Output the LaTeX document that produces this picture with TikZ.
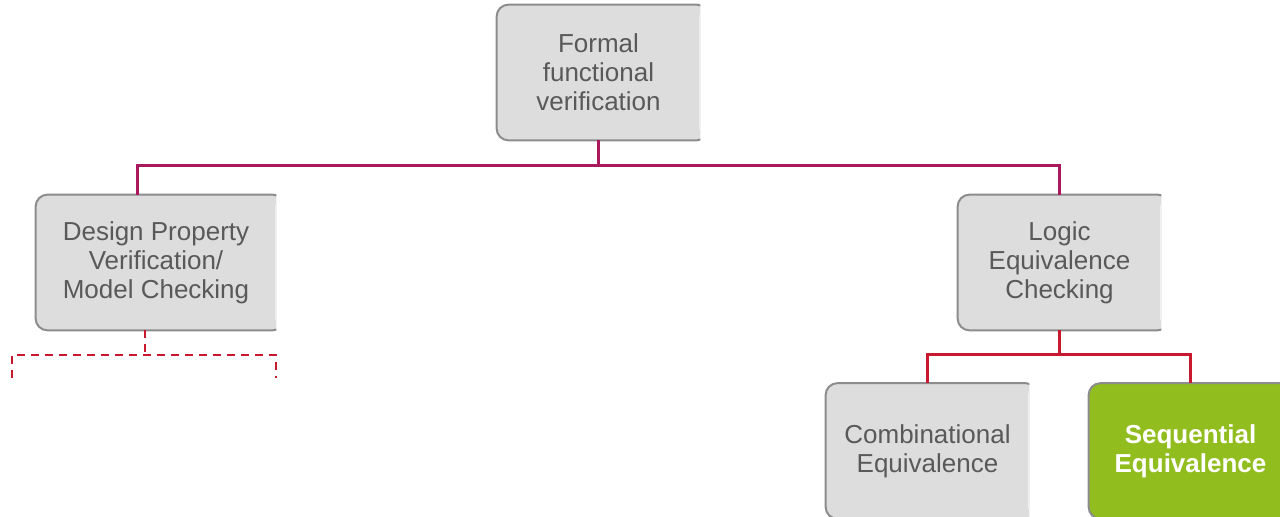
\documentclass[tikz,border=0pt]{standalone}
\usepackage{fontspec}
\setmainfont{Liberation Sans}
\usetikzlibrary{backgrounds}
\definecolor{boxfill}{HTML}{DDDDDD}
\definecolor{boxline}{HTML}{8C8C8C}
\definecolor{boxedge}{HTML}{EFEFEF}
\definecolor{boxtext}{HTML}{595959}
\definecolor{seqgreen}{HTML}{92BD1F}
\definecolor{busupper}{HTML}{A8195E}
\definecolor{buslower}{HTML}{C8192E}

% A rounded box whose right side is cut straight, as if clipped
\newcommand{\cutbox}[2]{%
  \begin{scope}[on background layer]
    \begin{scope}
      \clip ([xshift=-2pt,yshift=-2pt]#1.south west) rectangle ([yshift=2pt]#1.north east);
      \draw[fill=#2, draw=boxline, line width=1pt, rounded corners=6pt]
        (#1.south west) rectangle ([xshift=4pt]#1.north east);
    \end{scope}
    \draw[boxedge, line width=1pt] ([yshift=-5pt]#1.north east) -- ([yshift=5pt]#1.south east);
  \end{scope}}

\begin{document}
\begin{tikzpicture}[x=0.5pt, y=-0.5pt,
  box/.style={inner sep=0pt, align=center, text=boxtext,
    minimum width=101.5pt, minimum height=67.5pt,
    font=\fontsize{13}{14.5}\selectfont},
  upper/.style={draw=busupper, line width=1.5pt},
  lower/.style={draw=buslower, line width=1.5pt},
  dashbus/.style={draw=buslower, line width=1.1pt, dash pattern=on 4pt off 3pt}]

\useasboundingbox (0,0) rectangle (1280,517);

% boxes
\node[box] (top) at (598.5,72.5) {Formal\\functional\\verification};
\node[box, minimum width=120pt] (dpv) at (156,262.5) {Design Property\\Verification/\\Model Checking};
\node[box] (lec) at (1059.5,262.5) {Logic\\Equivalence\\Checking};
\node[box] (comb) at (927.5,451) {Combinational\\Equivalence};
\node[box, text=white, font=\fontsize{13}{14.5}\selectfont\bfseries] (seq) at (1190.5,451) {Sequential\\Equivalence};

\cutbox{top}{boxfill}
\cutbox{dpv}{boxfill}
\cutbox{lec}{boxfill}
\cutbox{comb}{boxfill}
\cutbox{seq}{seqgreen}

% upper bus
\coordinate (busA) at (598.5,166);
\coordinate (dpvin) at (137,195);
\draw[upper] (top.south) -- (busA);
\draw[upper] (dpvin) |- (busA) -| (lec.north);

% lower bus
\coordinate (busB) at (1059.5,355);
\draw[lower] (lec.south) -- (busB);
\draw[lower] (comb.north) |- (busB) -| (seq.north);

% dashed open branch under the model checking box
\coordinate (dpvout) at (145,330);
\coordinate (busC) at (145,355);
\coordinate (dl) at (12,378);
\coordinate (dr) at (276,378);
\draw[dashbus] (dpvout) -- (busC);
\draw[dashbus] (dl) |- (busC) -| (dr);
\end{tikzpicture}
\end{document}
